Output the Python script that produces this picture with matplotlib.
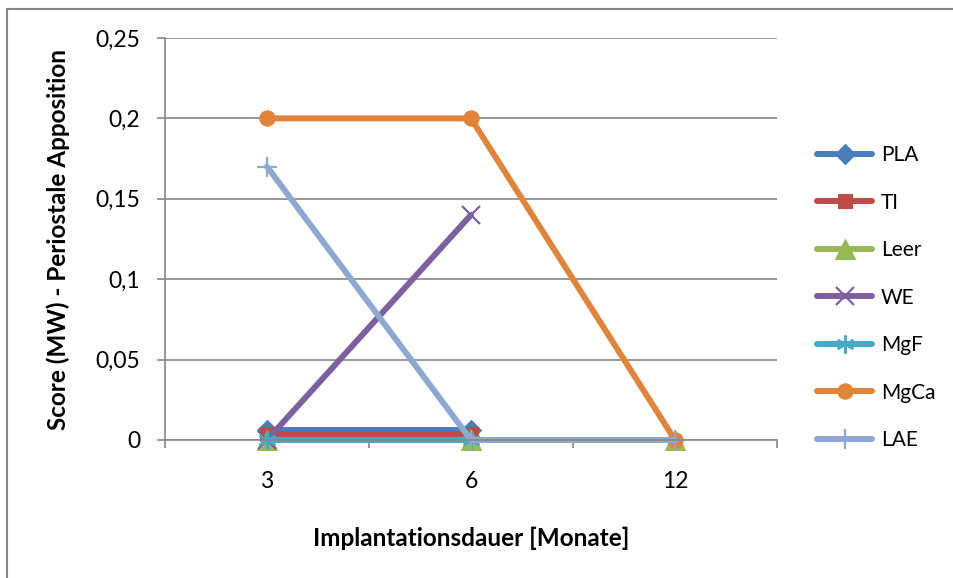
import matplotlib
matplotlib.use("Agg")
import matplotlib.pyplot as plt
import matplotlib.patches as mpatches
from matplotlib.ticker import FixedLocator, FuncFormatter

# Implantation periods (categories on the x axis)
months = ["3", "6", "12"]

# Mean scores per group; None = no value for that period
pla = [0.006, 0.006, None]
ti = [0.004, 0.004, None]
leer = [0.0, 0.0, 0.0]
we = [0.0, 0.14, None]
mgf = [0.0, 0.0, None]
mgca = [0.2, 0.2, 0.0]
lae = [0.17, 0.0, 0.0]

series_names = ["PLA", "TI", "Leer", "WE", "MgF", "MgCa", "LAE"]
series_values = [pla, ti, leer, we, mgf, mgca, lae]
series_colors = ["#4A7EBB", "#BE4B48", "#98B954", "#7D60A0", "#46AAC5", "#E0843A", "#8EA9D1"]
series_markers = ["D", "s", "^", "x", (6, 2, 0), "o", "+"]
marker_sizes = [10, 10, 15, 13, 13, 11, 15]

y_ticks = [0, 0.05, 0.1, 0.15, 0.2, 0.25]

plt.rcParams["font.family"] = ["Lato", "DejaVu Sans"]

fig = plt.figure(figsize=(9.54, 5.78), dpi=100)
ax = fig.add_axes([165 / 954, 1 - 440 / 578, 612 / 954, 402 / 578])

x = list(range(len(months)))
for name, vals, col, mk, ms in zip(series_names, series_values, series_colors,
                                    series_markers, marker_sizes):
    xs = [xi for xi, v in zip(x, vals) if v is not None]
    ys = [v for v in vals if v is not None]
    thin = mk in ("x", "+") or isinstance(mk, tuple)
    ax.plot(xs, ys, color=col, lw=4.3, marker=mk, markersize=ms,
            markeredgewidth=1.6 if thin else 0.8,
            markeredgecolor=col, markerfacecolor=col, label=name,
            clip_on=False, solid_capstyle="round")

axis_col = "#868686"
ax.set_xlim(-0.5, 2.5)
ax.set_ylim(0, 0.25)
ax.yaxis.set_major_locator(FixedLocator(y_ticks))
ax.yaxis.set_major_formatter(FuncFormatter(lambda v, p: ("%g" % round(v, 2)).replace(".", ",")))
ax.grid(axis="y", color=axis_col, lw=1.2)
ax.set_axisbelow(True)

# category labels centred between the boundary tick marks
ax.xaxis.set_major_locator(FixedLocator([-0.5, 0.5, 1.5, 2.5]))
ax.xaxis.set_major_formatter(FuncFormatter(lambda v, p: ""))
ax.xaxis.set_minor_locator(FixedLocator(x))
ax.set_xticklabels(months, minor=True)
ax.tick_params(axis="x", which="minor", length=0, pad=22, labelsize=16.5)
ax.tick_params(axis="x", which="major", length=5.8, width=1.2, color=axis_col, direction="out")
ax.tick_params(axis="y", length=5.8, width=1.2, color=axis_col, direction="out",
               labelsize=16.5, pad=12)

for s in ("top", "right"):
    ax.spines[s].set_visible(False)
for s in ("left", "bottom"):
    ax.spines[s].set_color(axis_col)
    ax.spines[s].set_linewidth(1.2)

ax.set_xlabel("Implantationsdauer [Monate]", fontsize=17.5, fontweight="bold", va="center")
ax.xaxis.set_label_coords(0.5, (440 - 538) / 402)
ax.set_ylabel("Score (MW) - Periostale Apposition", fontsize=17.5, fontweight="bold", va="center")
ax.yaxis.set_label_coords((58 - 165) / 612, 0.5)

ax.legend(loc="center left", bbox_to_anchor=(1.052, 0.354), frameon=False,
          fontsize=15, handlelength=2.64, numpoints=1, labelspacing=1.32,
          handletextpad=0.43, borderaxespad=0)

fig.patches.append(mpatches.Rectangle((7 / 954, -0.1), 1.2, 1 - 9 / 578 + 0.1,
                                      transform=fig.transFigure, fill=False,
                                      edgecolor=axis_col, lw=1.5))

fig.savefig("out.png", dpi=100, facecolor="white")
